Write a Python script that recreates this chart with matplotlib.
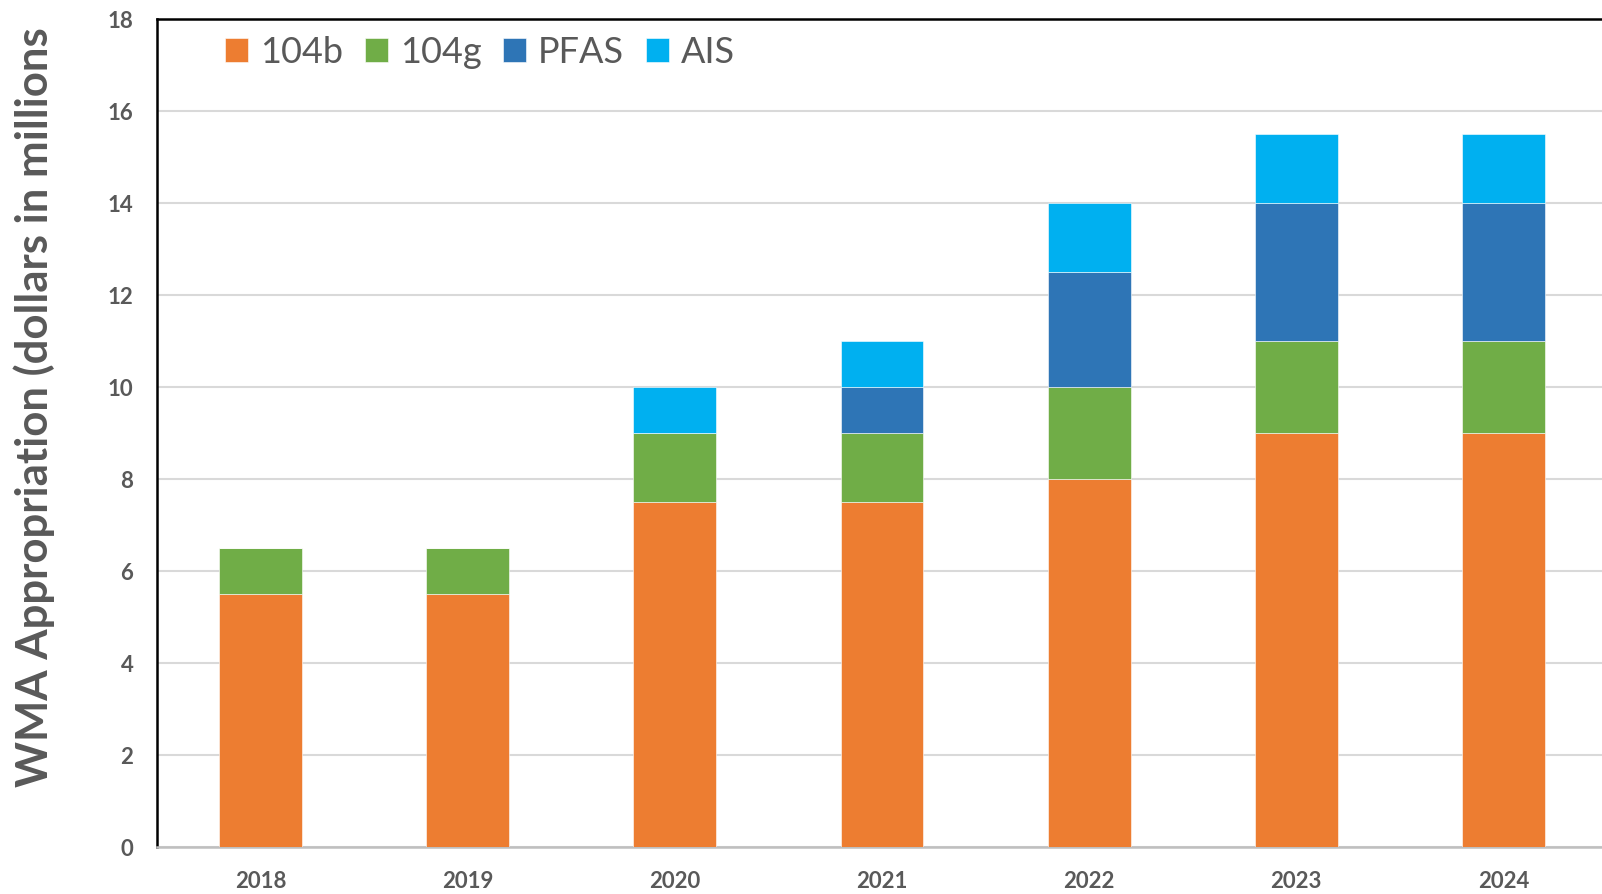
import matplotlib
matplotlib.use("Agg")
import matplotlib.pyplot as plt
import numpy as np

years = ["2018", "2019", "2020", "2021", "2022", "2023", "2024"]
v104b = [5.5, 5.5, 7.5, 7.5, 8, 9, 9]
v104g = [1, 1, 1.5, 1.5, 2, 2, 2]
pfas = [0, 0, 0, 1, 2.5, 3, 3]
ais = [0, 0, 1, 1, 1.5, 1.5, 1.5]
series_names = ["104b", "104g", "PFAS", "AIS"]
colors = ["#ED7D31", "#70AD47", "#2E75B6", "#00B0F0"]
yticks = [0, 2, 4, 6, 8, 10, 12, 14, 16, 18]

W, H = 1602, 894
fig = plt.figure(figsize=(W / 100, H / 100), dpi=100)
left, right, top, bottom = 157, 1607, 19, 847
ax = fig.add_axes([left / W, (H - bottom) / H, (right - left) / W, (bottom - top) / H])

x = np.arange(len(years))
base = np.zeros(len(years))
for name, vals, c in zip(series_names, [v104b, v104g, pfas, ais], colors):
    vals = np.array(vals, dtype=float)
    ax.bar(x, vals, bottom=base, width=0.40, color=c, label=name,
           edgecolor="white", linewidth=0.4, zorder=3)
    base += vals

ax.set_xlim(-0.5, len(years) - 0.5)
ax.set_ylim(0, 18)
ax.set_yticks(yticks)
ax.set_xticks(x)
ax.set_xticklabels(years)
ax.yaxis.grid(True, color="#D9D9D9", linewidth=1.5, zorder=0)
ax.set_axisbelow(True)

for s in ["left", "top"]:
    ax.spines[s].set_color("black")
    ax.spines[s].set_linewidth(1.8)
ax.spines["bottom"].set_color("#BFBFBF")
ax.spines["bottom"].set_linewidth(1.8)
ax.spines["right"].set_visible(False)

ax.tick_params(axis="both", length=0, colors="#595959", labelsize=16)
ax.tick_params(axis="y", pad=17)
ax.tick_params(axis="x", pad=17)
for lab in ax.get_xticklabels() + ax.get_yticklabels():
    lab.set_fontfamily("Lato")
    lab.set_fontweight("bold")

fig.text(34 / W, (H - 787) / H, "WMA Appropriation (dollars in millions",
         rotation=90, ha="center", va="bottom", color="#595959",
         fontsize=31.5, fontweight="bold", family="Lato")

leg = ax.legend(loc="upper left", bbox_to_anchor=(225 / W, (H - 36) / H),
                bbox_transform=fig.transFigure, ncol=4, frameon=False,
                prop=dict(family="Lato", size=26),
                handlelength=0.64, handleheight=0.64, handletextpad=0.33,
                columnspacing=0.6, borderpad=0, borderaxespad=0)
for t in leg.get_texts():
    t.set_color("#595959")

fig.savefig("out.png", dpi=100)
